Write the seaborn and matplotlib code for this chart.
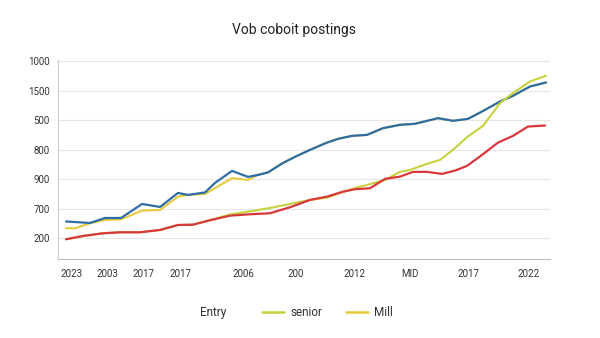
import matplotlib
matplotlib.use("Agg")
import matplotlib.pyplot as plt
import seaborn as sns
from matplotlib.lines import Line2D

# values (x in period units, y in gridline units)
entry_x = [0, 2.4, 3.9, 5.5, 7.6, 9.4, 11.2, 12.2, 13.9, 14.9, 16.6, 18.2, 19.2, 20.2, 21.7, 23.1,
           24.4, 26.1, 27.2, 28.6, 30.1, 31.7, 33.4, 34.9, 37.2, 38.7, 40.2, 41.6, 43.4, 44.7, 46.4, 48.0]
entry_y = [0.561, 0.510, 0.680, 0.680, 1.156, 1.054, 1.531, 1.463, 1.548, 1.871, 2.279, 2.075, 2.143,
           2.228, 2.551, 2.789, 2.993, 3.241, 3.367, 3.469, 3.503, 3.731, 3.844, 3.878, 4.071, 3.980,
           4.048, 4.296, 4.636, 4.830, 5.146, 5.282]

red_x = [0, 1.7, 3.7, 5.4, 7.4, 9.4, 11.2, 12.7, 14.1, 16.4, 18.4, 20.4, 22.4, 24.4, 26.1, 27.7, 28.9,
         30.4, 31.9, 33.4, 34.7, 36.1, 37.6, 38.9, 40.1, 41.7, 43.2, 44.7, 46.2, 47.9]
red_y = [-0.044, 0.068, 0.160, 0.194, 0.194, 0.272, 0.442, 0.452, 0.578, 0.759, 0.806, 0.840, 1.044,
         1.293, 1.405, 1.575, 1.656, 1.690, 2.007, 2.085, 2.245, 2.245, 2.177, 2.289, 2.449, 2.847,
         3.241, 3.469, 3.786, 3.820]

senior_x = [0, 1.7, 3.7, 5.4, 7.4, 9.4, 11.2, 12.7, 14.1, 16.4, 18.4, 20.4, 22.4, 24.4, 26.1, 27.7,
            28.9, 30.1, 31.9, 33.4, 34.4, 36.1, 37.4, 38.7, 40.1, 41.7, 43.4, 44.7, 46.4, 48.0]
senior_y = [-0.044, 0.068, 0.160, 0.194, 0.194, 0.272, 0.442, 0.452, 0.578, 0.800, 0.905, 1.020,
            1.156, 1.293, 1.370, 1.560, 1.700, 1.803, 1.973, 2.245, 2.313, 2.517, 2.653, 2.993, 3.425,
            3.810, 4.582, 4.922, 5.316, 5.510]

mill_x = [0, 0.9, 2.4, 3.9, 5.5, 7.6, 9.4, 11.2, 12.2, 13.9, 16.6, 18.2, 19.2, 20.2, 21.7, 23.1, 24.4,
          26.1, 27.2, 28.6, 30.1, 31.7, 33.4, 34.9, 37.2, 38.7, 40.2, 41.6, 43.4, 44.7, 46.4, 48.0]
mill_y = [0.330, 0.330, 0.500, 0.612, 0.636, 0.929, 0.952, 1.405, 1.463, 1.497, 2.031, 1.973, 2.143,
          2.228, 2.551, 2.789, 2.993, 3.241, 3.367, 3.469, 3.503, 3.731, 3.844, 3.878, 4.071, 3.980,
          4.048, 4.296, 4.636, 4.830, 5.146, 5.282]

x_ticks = [0.6, 4.1, 7.7, 11.4, 17.7, 23.0, 28.9, 34.4, 40.2, 46.3]
x_labels = ["2023", "2003", "2017", "2017", "2006", "200", "2012", "MID", "2017", "2022"]
y_labels = ["200", "700", "900", "800", "500", "1500", "1000"]

sns.set_theme(style="whitegrid")
plt.rcParams["font.family"] = ["Roboto", "DejaVu Sans"]

fig = plt.figure(figsize=(6, 3.38), dpi=100)
ax = fig.add_axes([0.0967, 0.2337, 0.82, 0.59])

c_mill = "#e6c93c"
c_senior = "#c5d23c"
c_blue = "#2f6ea5"
c_red = "#d8383c"

sns.lineplot(x=mill_x, y=mill_y, ax=ax, color=c_mill, lw=1.5)
sns.lineplot(x=entry_x, y=entry_y, ax=ax, color=c_blue, lw=1.6)
sns.lineplot(x=senior_x, y=senior_y, ax=ax, color=c_senior, lw=1.5)
sns.lineplot(x=red_x, y=red_y, ax=ax, color=c_red, lw=1.6)

ax.set_xlim(-0.8, 48.4)
ax.set_ylim(-0.714, 6.06)
ax.set_yticks(range(len(y_labels)))
ax.set_yticklabels(y_labels)
ax.set_xticks(x_ticks)
ax.set_xticklabels(x_labels)
ax.tick_params(axis="both", labelsize=7, colors="#333333", pad=6)
ax.tick_params(axis="x", length=3, color="#cccccc", pad=4)
ax.tick_params(axis="y", length=0)
ax.grid(axis="x", visible=False)
ax.grid(axis="y", color="#e6e6e6", lw=0.8)
ax.set_xlabel("")
ax.set_ylabel("")
for s in ["top", "right"]:
    ax.spines[s].set_visible(False)
ax.spines["left"].set_color("#d0d0d0")
ax.spines["bottom"].set_color("#c0c0c0")
ax.spines["left"].set_linewidth(0.8)
ax.spines["bottom"].set_linewidth(0.8)

fig.text(0.49, 0.91, "Vob coboit postings", ha="center", va="center", fontsize=10, color="#222222")

fig.text(200 / 600, 0.074, "Entry", ha="left", va="center", fontsize=8.5, color="#333333")
handles = [Line2D([], [], color=c_senior, lw=1.8), Line2D([], [], color=c_mill, lw=1.8)]
fig.legend(handles, ["senior", "Mill"], loc="center left", bbox_to_anchor=(262 / 600, 0.074),
           ncol=2, frameon=False, fontsize=8.5, handlelength=1.85, handletextpad=0.55,
           columnspacing=2.0, borderpad=0, borderaxespad=0, labelcolor="#333333")

fig.savefig("out.png", dpi=100)
